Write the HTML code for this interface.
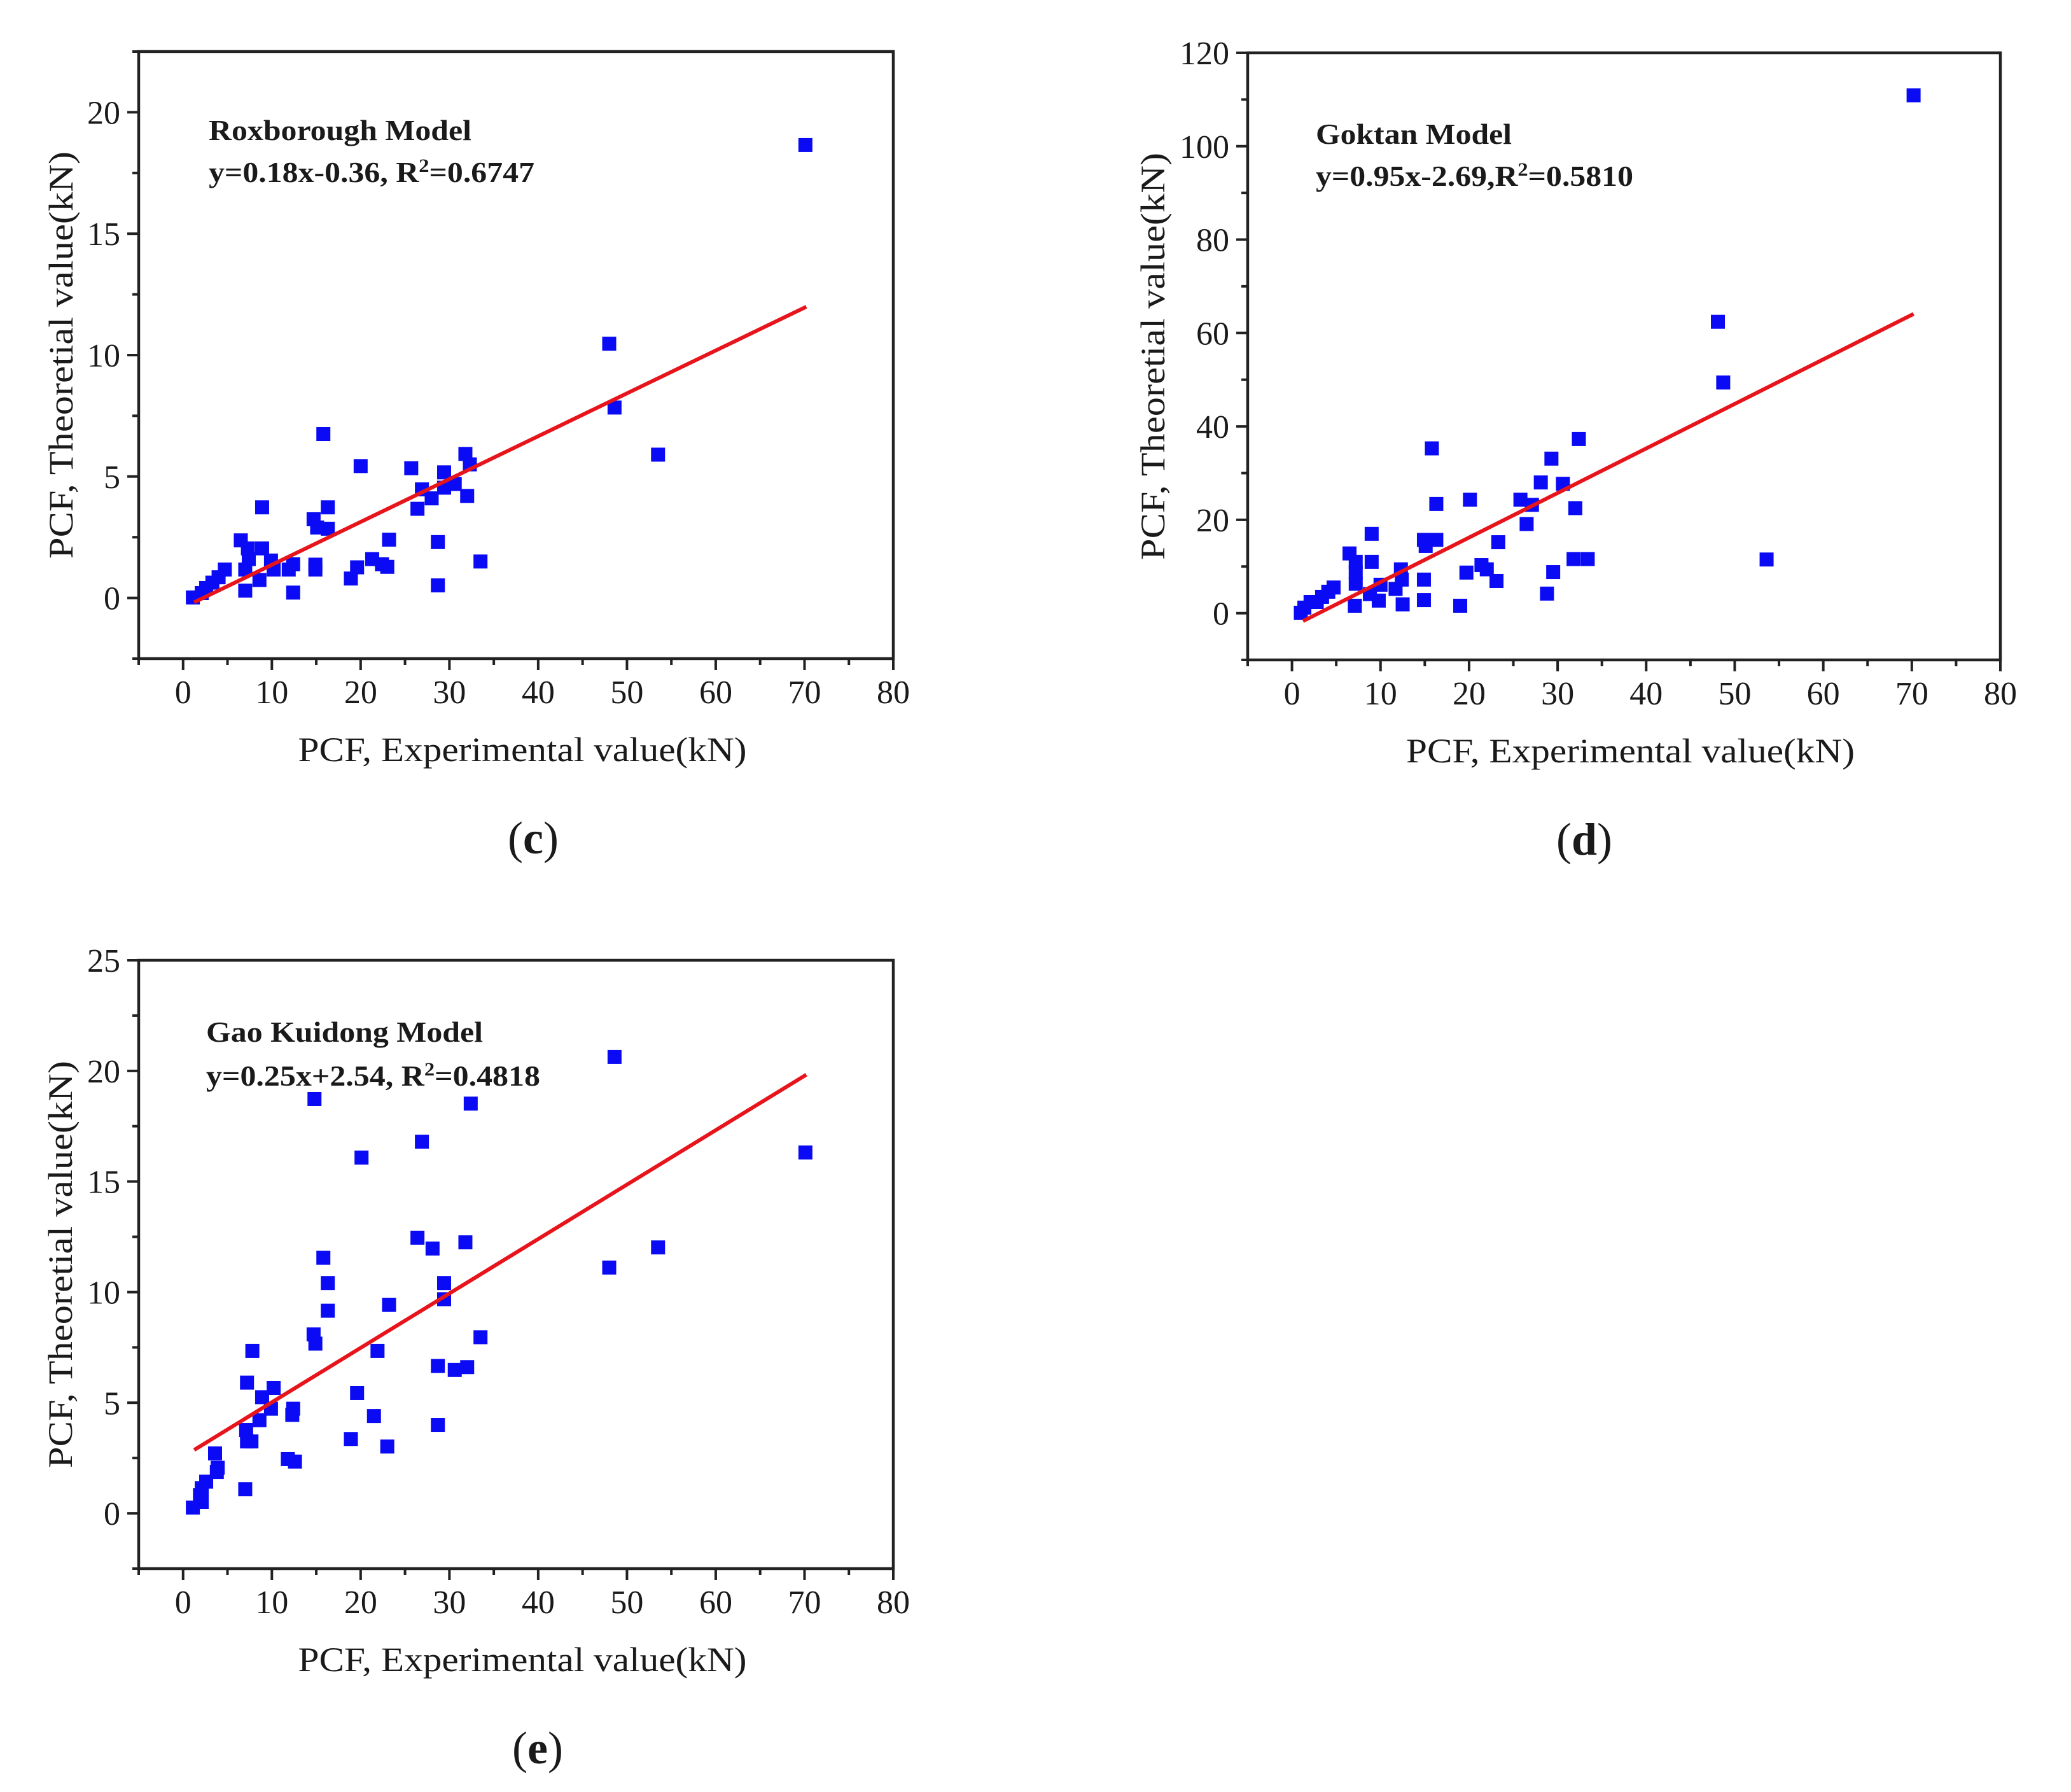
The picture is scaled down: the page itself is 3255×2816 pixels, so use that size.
<!DOCTYPE html>
<html><head><meta charset="utf-8">
<style>
html,body{margin:0;padding:0;background:#fff;}
svg{display:block;}
text{font-family:"Liberation Serif",serif;fill:#1a1a1a;}
</style></head>
<body>
<svg id="fig" width="3255" height="2816" viewBox="0 0 3255 2816" xmlns="http://www.w3.org/2000/svg">
<rect width="3255" height="2816" fill="#fff"/>
</svg>
<script>
// ---- data: panel (c) Roxborough ----
const cX = [70.1,48.0,48.6,53.5,15.8,20.0,25.7,31.8,32.3,29.4,26.9,29.4,30.6,28.0,32.0,26.4,16.3,8.9,14.7,15.1,16.3,23.2,28.7,6.5,7.3,8.9,7.4,9.9,21.3,22.4,23.0,19.6,18.9,14.9,14.9,33.5,28.7,7.0,12.4,11.9,12.4,10.2,8.6,7.0,4.7,4.0,3.3,2.6,2.1,1.1];
const cY = [18.65,10.47,7.84,5.9,6.75,5.43,5.34,5.93,5.5,5.17,4.47,4.54,4.69,4.1,4.2,3.67,3.73,3.73,3.24,2.9,2.85,2.4,2.3,2.37,2.04,2.04,1.6,1.54,1.6,1.39,1.28,1.26,0.8,1.37,1.17,1.5,0.52,0.3,0.22,1.17,1.39,1.17,0.74,1.17,1.17,0.85,0.63,0.41,0.2,0.02];
const cFit = [0.1765,-0.40];   // slope, intercept
// ---- data: panel (d) Goktan ----
const dX = [70.2,48.1,48.7,53.6,15.8,32.4,29.3,28.1,30.6,20.1,25.8,16.3,27.1,32.0,26.5,9.0,14.9,16.3,15.1,23.3,6.5,9.0,7.2,31.8,33.4,21.4,22.0,12.3,19.7,29.5,7.2,12.4,14.9,23.1,10.0,7.2,11.7,8.8,28.8,4.7,4.1,3.4,2.8,2.1,1.4,1.0,9.8,14.9,7.1,12.5,19.0];
const dY = [110.9,62.4,49.4,11.5,35.3,37.3,33.1,28.0,27.7,24.3,24.3,23.4,23.2,22.5,19.1,17.0,15.7,15.7,14.4,15.2,12.8,11.0,11.0,11.6,11.6,10.3,9.4,9.4,8.7,8.8,8.8,7.2,7.2,6.9,6.1,6.3,5.2,4.1,4.2,5.5,4.6,3.5,2.4,2.4,1.2,0.1,2.7,2.8,1.6,1.9,1.6];
const dFit = [0.954,-2.88];
// ---- data: panel (e) Gao Kuidong ----
const eX = [48.6,70.1,48.0,53.5,14.8,32.4,26.9,20.1,26.4,28.1,31.8,15.8,16.3,29.4,29.4,16.3,23.2,14.7,14.9,33.5,21.9,7.8,28.7,30.6,32.0,7.2,10.2,8.9,19.6,9.9,12.4,12.3,8.6,21.5,28.7,7.1,7.2,7.7,18.9,23.0,11.8,12.6,3.6,3.9,3.8,2.6,2.1,1.9,2.1,1.1,7.0];
const eY = [20.63,16.31,11.11,12.02,18.73,18.52,16.8,16.08,12.46,11.97,12.25,11.55,10.41,10.41,9.68,9.16,9.42,8.09,7.67,7.96,7.34,7.34,6.66,6.48,6.61,5.91,5.67,5.25,5.44,4.73,4.73,4.45,4.21,4.40,4.0,3.77,3.25,3.25,3.36,3.02,2.45,2.34,2.71,2.06,1.87,1.43,1.14,0.83,0.52,0.26,1.09];
const eFit = [0.246,2.56];
const xTicks = [0,10,20,30,40,50,60,70,80];
const cYTicks = [0,5,10,15,20];
const dYTicks = [0,20,40,60,80,100,120];
const eYTicks = [0,5,10,15,20,25];

const NS = "http://www.w3.org/2000/svg";
const svg = document.getElementById('fig');
function mk(tag, attrs, parent){ const e=document.createElementNS(NS,tag); for(const k in attrs) e.setAttribute(k,attrs[k]); (parent||svg).appendChild(e); return e; }

function panel(p){
  const g = mk('g',{});
  
  
  const sx = v => p.L + (v - p.xmin) / (p.xmax - p.xmin) * (p.R - p.L);
  const sy = v => p.B - (v - p.ymin) / (p.ymax - p.ymin) * (p.B - p.T);
  const frame = mk('rect',{x:p.L,y:p.T,width:p.R-p.L,height:p.B-p.T,fill:'none',stroke:'#222','stroke-width':4.5},g);
  
  
  for(let v=-5; v<=80; v+=5){
    const major = v%10===0;
    const t = mk('line',{x1:sx(v),x2:sx(v),y1:p.B,y2:p.B+(major?18:10),stroke:'#222','stroke-width':4},g);
    
    
  }
  xTicks.forEach(v=>{
    const t = mk('text',{x:sx(v),y:p.B+70,'font-size':52,'text-anchor':'middle'},g);
    t.textContent = v;
    
    
  });
  for(let v=p.ymin; v<=p.ymax+1e-9; v+=p.minor){
    const major = Math.abs(v/p.major - Math.round(v/p.major))<1e-6;
    const t = mk('line',{x1:p.L-(major?18:10),x2:p.L,y1:sy(v),y2:sy(v),stroke:'#222','stroke-width':4},g);
    
    
  }
  p.yTicks.forEach(v=>{
    const t = mk('text',{x:p.L-29,y:sy(v)+18,'font-size':52,'text-anchor':'end'},g);
    t.textContent = v;
    
    
  });
  const xt = mk('text',{x:(p.L+p.R)/2+10,y:p.B+161,'font-size':54,'text-anchor':'middle',textLength:705,lengthAdjust:'spacingAndGlyphs'},g);
  xt.textContent = 'PCF, Experimental value(kN)';
  
  
  const cy=(p.T+p.B)/2;
  const yt = mk('text',{x:p.ytx,y:cy,'font-size':54,'text-anchor':'middle',textLength:640,lengthAdjust:'spacingAndGlyphs',transform:`rotate(-90 ${p.ytx} ${cy}) translate(0 18)`},g);
  yt.textContent = 'PCF, Theoretial value(kN)';
  
  
  const a1 = mk('text',{x:p.ax,y:p.ay1,'font-size':46,'font-weight':'bold',textLength:p.aw1,lengthAdjust:'spacingAndGlyphs'},g);
  a1.textContent = p.title;
  
  
  const a2 = mk('text',{x:p.ax,y:p.ay2,'font-size':46,'font-weight':'bold',textLength:p.aw2,lengthAdjust:'spacingAndGlyphs'},g);
  a2.innerHTML = p.eq1 + '<tspan dy="-16" font-size="30">2</tspan><tspan dy="16">' + p.eq2 + '</tspan>';
  
  
  p.xs.forEach((xv,i)=>{
    const r = mk('rect',{x:sx(xv)-11,y:sy(p.ys[i])-11,width:22,height:22,fill:'#0a0af5'},g);
    
    
  });
  const x1=1.25, x2=70.2;
  const ln = mk('line',{x1:sx(x1),y1:sy(p.fit[0]*x1+p.fit[1]),x2:sx(x2),y2:sy(p.fit[0]*x2+p.fit[1]),stroke:'#e8141c','stroke-width':6},g);
  
  
  const lb = mk('text',{x:p.lx,y:p.B+306,'font-size':72,'text-anchor':'middle'},g);
  lb.innerHTML = '(<tspan font-weight="bold">'+p.letter+'</tspan>)';
  
  
}

panel({name:'panel-c-roxborough',L:218,R:1404,T:81,B:1035,xmin:-5,xmax:80,ymin:-2.5,ymax:22.5,major:5,minor:2.5,yTicks:cYTicks,
  xs:cX,ys:cY,fit:cFit,ytx:96,ax:328,ay1:220,ay2:286,aw1:413,aw2:512,title:'Roxborough Model',eq1:'y=0.18x-0.36, R',eq2:'=0.6747',lx:838,letter:'c'});
panel({name:'panel-d-goktan',L:1961,R:3144,T:83,B:1037,xmin:-5,xmax:80,ymin:-10,ymax:120,major:20,minor:10,yTicks:dYTicks,
  xs:dX,ys:dY,fit:dFit,ytx:1812,ax:2068,ay1:226,ay2:292,aw1:308,aw2:499,title:'Goktan Model',eq1:'y=0.95x-2.69,R',eq2:'=0.5810',lx:2490,letter:'d'});
panel({name:'panel-e-gao-kuidong',L:218,R:1404,T:1509,B:2465,xmin:-5,xmax:80,ymin:-2.5,ymax:25,major:5,minor:2.5,yTicks:eYTicks,
  xs:eX,ys:eY,fit:eFit,ytx:95,ax:324,ay1:1637,ay2:1706,aw1:435,aw2:525,title:'Gao Kuidong Model',eq1:'y=0.25x+2.54, R',eq2:'=0.4818',lx:845,letter:'e'});
</script>
</body></html>
